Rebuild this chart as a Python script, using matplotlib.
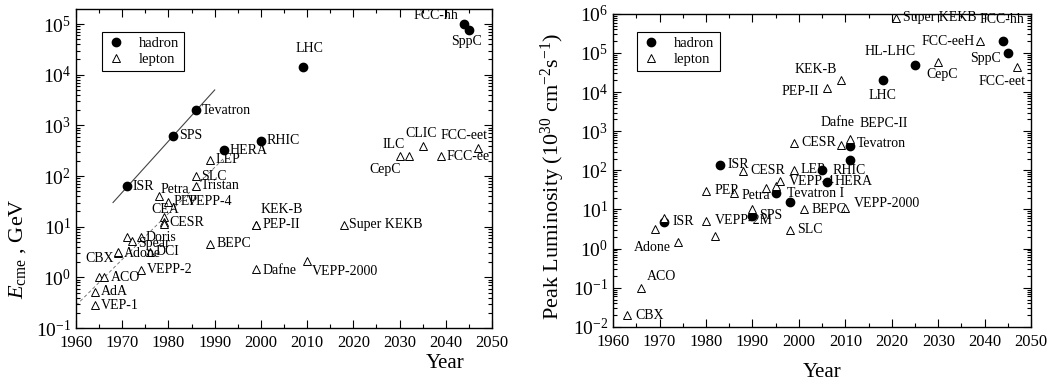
import numpy as np
import matplotlib.pyplot as plt
from matplotlib.lines import Line2D
from matplotlib.ticker import LogLocator, NullFormatter, MultipleLocator

plt.rcParams['font.family'] = ['Liberation Serif', 'DejaVu Serif']
plt.rcParams['mathtext.fontset'] = 'custom'
plt.rcParams['mathtext.rm'] = 'Liberation Serif'
plt.rcParams['mathtext.it'] = 'Liberation Serif:italic'
plt.rcParams['mathtext.bf'] = 'Liberation Serif:bold'

# ---- centre-of-mass energy (GeV) ----
e_had_names = ['ISR', 'SPS', 'Tevatron', 'HERA', 'RHIC', 'LHC', 'FCC-hh', 'SppC']
e_had_year = [1971, 1981, 1986, 1992, 2000, 2009, 2044, 2045]
e_had_gev = [63, 630, 2000, 320, 500, 14000, 100000, 75000]

e_lep_names = ['VEP-1', 'AdA', '', 'ACO', 'CBX', 'Adone', '', 'Spear', 'Doris',
               'VEPP-2', 'DCI', 'Petra', 'CEA', 'CESR', 'VEPP-4', 'PEP', 'SLC',
               'Tristan', 'LEP', 'BEPC', 'KEK-B', 'PEP-II', 'Dafne', 'VEPP-2000',
               'Super KEKB', 'CepC', 'ILC', 'CLIC', 'FCC-ee', 'FCC-eet']
e_lep_year = [1964, 1964, 1965, 1966, 1969, 1969, 1971, 1972, 1974,
              1974, 1976, 1978, 1979, 1979, 1979, 1980, 1986,
              1986, 1989, 1989, 1999, 1999, 1999, 2010,
              2018, 2030, 2032, 2035, 2039, 2047]
e_lep_gev = [0.28, 0.52, 1.0, 1.0, 3.0, 3.2, 6.2, 5.2, 6.2,
             1.4, 3.2, 40, 15.5, 12.3, 11.5, 31, 100,
             64, 209, 4.6, 11, 11, 1.45, 2.1,
             11, 245, 250, 390, 245, 365]

# trend lines
e_had_fit_year = [1968, 1990]
e_had_fit_gev = [30, 5000]
e_lep_fit_year = [1960, 1992]
e_lep_fit_gev = [0.28, 225]

# ---- peak luminosity (1e30 cm^-2 s^-1) ----
l_had_names = ['ISR', 'ISR', 'SPS', 'Tevatron I', '', 'RHIC', 'HERA', '',
               'Tevatron', 'LHC', 'HL-LHC', 'FCC-hh', 'SppC']
l_had_year = [1971, 1983, 1990, 1995, 1998, 2005, 2006, 2011,
              2011, 2018, 2025, 2044, 2045]
l_had_lumi = [4.9, 140, 6.8, 26, 16, 100, 51, 185,
              430, 20000, 50000, 200000, 100000]

l_lep_names = ['CBX', 'ACO', '', '', 'Adone', 'PEP', 'VEPP-2M', '', 'Petra',
               'CESR', '', '', '', 'VEPP-4', 'SLC', 'LEP', 'CESR', 'BEPC',
               'PEP-II', 'KEK-B', 'Dafne', 'BEPC-II', 'VEPP-2000',
               'Super KEKB', 'CepC', 'FCC-eeH', 'FCC-eet']
l_lep_year = [1963, 1966, 1969, 1971, 1974, 1980, 1980, 1982, 1986,
              1988, 1990, 1993, 1995, 1996, 1998, 1999, 1999, 2001,
              2006, 2009, 2009, 2011, 2010,
              2021, 2030, 2039, 2047]
l_lep_lumi = [0.02, 0.1, 3.1, 6.2, 1.5, 30, 5.1, 2.1, 26,
              98, 10, 35, 40, 52, 3, 105, 510, 10,
              12500, 21000, 450, 650, 10.7,
              800000, 60000, 200000, 43000]

# label placement: (dx, dy) in pixels from the marker, horizontal alignment
e_had_offsets = {
    'ISR': (6, 0, 'left'), 'SPS': (6, 0, 'left'), 'Tevatron': (6, 0, 'left'),
    'HERA': (6, 0, 'left'), 'RHIC': (6, 0, 'left'), 'LHC': (7, 19, 'center'),
    'FCC-hh': (-6, 9, 'right'), 'SppC': (-2, -11, 'center'),
}
e_lep_offsets = {
    'VEP-1': (6, 0, 'left'), 'AdA': (6, 0, 'left'), 'ACO': (7, 0, 'left'),
    'CBX': (-4, -5, 'right'), 'Adone': (6, -2, 'left'), 'Spear': (7, -2, 'left'),
    'Doris': (5, 0, 'left'), 'VEPP-2': (6, 0, 'left'), 'DCI': (6, 0, 'left'),
    'Petra': (1, 7, 'left'), 'CEA': (1, 8, 'center'), 'CESR': (6, 0, 'left'),
    'VEPP-4': (23, 22, 'left'), 'PEP': (5, 0, 'left'), 'SLC': (5, 0, 'left'),
    'Tristan': (5, 0, 'left'), 'LEP': (5, 0, 'left'), 'BEPC': (6, 0, 'left'),
    'KEK-B': (4, 15, 'left'), 'PEP-II': (6, 0, 'left'), 'Dafne': (6, -1, 'left'),
    'VEPP-2000': (5, -10, 'left'), 'Super KEKB': (5, 0, 'left'),
    'CepC': (1, -13, 'right'), 'ILC': (-4, 11, 'right'), 'CLIC': (-2, 13, 'center'),
    'FCC-ee': (5, 0, 'left'), 'FCC-eet': (9, 12, 'right'),
}
l_had_offsets = {
    'ISR': (8, 0, 'left'), 'SPS': (7, 1, 'left'), 'Tevatron I': (11, 0, 'left'),
    'RHIC': (10, 0, 'left'), 'HERA': (8, 0, 'left'), 'Tevatron': (7, 2, 'left'),
    'LHC': (0, -15, 'center'), 'HL-LHC': (1, 13, 'right'),
    'FCC-hh': (-1, 22, 'center'), 'SppC': (-7, -6, 'right'),
}
l_lep_offsets = {
    'CBX': (8, 0, 'left'), 'ACO': (6, 11, 'left'), 'Adone': (-7, -6, 'right'),
    'PEP': (8, 0, 'left'), 'VEPP-2M': (9, 0, 'left'), 'Petra': (8, -2, 'left'),
    'CESR': (7, 0, 'left'), 'VEPP-4': (8, 0, 'left'), 'SLC': (7, 0, 'left'),
    'LEP': (6, 0, 'left'), 'BEPC': (8, 0, 'left'), 'PEP-II': (-8, -3, 'right'),
    'KEK-B': (-4, 10, 'right'), 'Dafne': (-3, 22, 'center'),
    'BEPC-II': (10, 15, 'left'), 'VEPP-2000': (8, 5, 'left'),
    'Super KEKB': (7, 0, 'left'), 'CepC': (4, -13, 'center'),
    'FCC-eeH': (-5, 0, 'right'), 'FCC-eet': (-15, -14, 'center'),
}

LABEL_SIZE = 10


def add_labels(ax, names, years, values, offsets):
    for name, x, y in zip(names, years, values):
        if not name:
            continue
        dx, dy, ha = offsets[name]
        ax.annotate(name, (x, y), xytext=(dx, dy), textcoords='offset pixels',
                    ha=ha, va='center', fontsize=LABEL_SIZE)


def style_axes(ax, ylim):
    ax.set_xlim(1960, 2050)
    ax.set_yscale('log')
    ax.set_ylim(*ylim)
    ax.xaxis.set_major_locator(MultipleLocator(10))
    ax.xaxis.set_minor_locator(MultipleLocator(5))
    ax.yaxis.set_major_locator(LogLocator(base=10, numticks=20))
    ax.yaxis.set_minor_locator(LogLocator(base=10, subs=np.arange(2, 10), numticks=100))
    ax.yaxis.set_minor_formatter(NullFormatter())
    ax.tick_params(which='both', direction='in', top=True, right=True, width=0.8)
    ax.tick_params(which='major', length=6)
    ax.tick_params(which='minor', length=3)
    ax.tick_params(axis='x', labelsize=12, pad=5)
    ax.tick_params(axis='y', labelsize=14)
    for sp in ax.spines.values():
        sp.set_linewidth(1.0)


def plot_points(ax, had_x, had_y, lep_x, lep_y):
    ax.plot(had_x, had_y, 'o', ms=6, color='black', zorder=3)
    ax.plot(lep_x, lep_y, '^', ms=6, mfc='white', mec='black', mew=0.7,
            zorder=3, linestyle='none')


def add_legend(ax, anchor):
    handles = [
        Line2D([], [], marker='o', ms=6, color='black', linestyle='none'),
        Line2D([], [], marker='^', ms=6, mfc='white', mec='black', mew=0.7,
               linestyle='none'),
    ]
    leg = ax.legend(handles, ['hadron', 'lepton'], loc='upper left',
                    bbox_to_anchor=anchor, fontsize=10.5, fancybox=False,
                    edgecolor='black', framealpha=1, handlelength=1.2,
                    handletextpad=1.0, borderpad=0.35, labelspacing=0.2,
                    borderaxespad=0)
    leg.get_frame().set_linewidth(0.8)


fig = plt.figure(figsize=(10.49, 3.85), dpi=100)
ax1 = fig.add_axes([0.0725, 0.148, 0.3965, 0.829])
ax2 = fig.add_axes([0.5845, 0.151, 0.3985, 0.813])

# left: energy
ax1.plot(e_had_fit_year, e_had_fit_gev, color='#444444', lw=0.8, zorder=1)
ax1.plot(e_lep_fit_year, e_lep_fit_gev, color='#666666', lw=0.6,
         linestyle=(0, (4, 3)), zorder=1)
plot_points(ax1, e_had_year, e_had_gev, e_lep_year, e_lep_gev)
add_labels(ax1, e_had_names, e_had_year, e_had_gev, e_had_offsets)
add_labels(ax1, e_lep_names, e_lep_year, e_lep_gev, e_lep_offsets)
style_axes(ax1, (0.1, 10 ** 5.3))
add_legend(ax1, (0.062, 0.929))
ax1.set_ylabel(r'$E_{\rm cme}$ , GeV', fontsize=16)
ax1.yaxis.set_label_coords(-0.115, 0.25)
ax1.set_xlabel('Year', fontsize=15)
ax1.xaxis.set_label_coords(0.887, -0.08)

# right: luminosity
plot_points(ax2, l_had_year, l_had_lumi, l_lep_year, l_lep_lumi)
add_labels(ax2, l_had_names, l_had_year, l_had_lumi, l_had_offsets)
add_labels(ax2, l_lep_names, l_lep_year, l_lep_lumi, l_lep_offsets)
style_axes(ax2, (1e-2, 1e6))
add_legend(ax2, (0.057, 0.943))
ax2.set_ylabel(r'Peak Luminosity (10$^{30}$ cm$^{-2}$s$^{-1}$)', fontsize=16)
ax2.yaxis.set_label_coords(-0.11, 0.48)
ax2.set_xlabel('Year', fontsize=15)
ax2.xaxis.set_label_coords(0.5, -0.115)

fig.savefig('out.png', dpi=100)
